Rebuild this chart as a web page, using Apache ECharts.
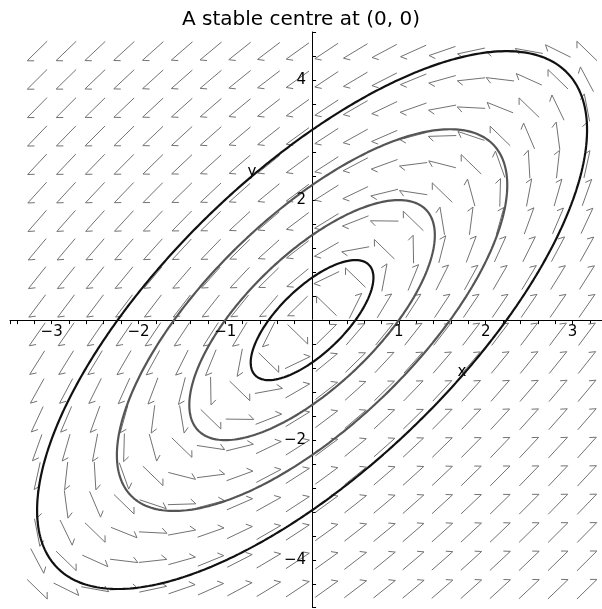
<!DOCTYPE html>
<html>
<head>
<meta charset="utf-8">
<script src="https://cdn.jsdelivr.net/npm/echarts@6/dist/echarts.min.js"></script>
<style>
  html, body { margin: 0; padding: 0; background: #fff; }
  #chart { width: 602px; height: 609px; }
</style>
</head>
<body>
<div id="chart"></div>
<script>
// Linear system  x' = x - y,  y' = 2x - y   (trace 0, det 1: a centre)
const systemMatrix = [[1, -1], [2, -1]];

// Starting points of the four trajectories (on the positive x-axis)
const startX = [0.5, 1.0, 1.59, 2.24];
const startY = [0, 0, 0, 0];
const curveShade = ['dark', 'mid', 'mid', 'dark'];

// Direction-field sampling: 20 x 20 cells, one arrow in each cell centre
const fieldXRange = [-10 / 3, 10 / 3];
const fieldYRange = [-4.72, 4.72];
const fieldCols = 20;
const fieldRows = 20;

// Labelled ticks
const xTickLabels = [-3, -2, -1, 1, 2, 3];
const yTickLabels = [-4, -2, 2, 4];

function rhs(x, y) {
  return [
    systemMatrix[0][0] * x + systemMatrix[0][1] * y,
    systemMatrix[1][0] * x + systemMatrix[1][1] * y
  ];
}

// Classic RK4 over one full period (eigenvalues are +-i, so period 2*pi)
function trajectory(x0, y0) {
  const steps = 720;
  const h = 2 * Math.PI / steps;
  const pts = [[x0, y0]];
  let x = x0, y = y0;
  for (let i = 0; i < steps; i++) {
    const k1 = rhs(x, y);
    const k2 = rhs(x + h / 2 * k1[0], y + h / 2 * k1[1]);
    const k3 = rhs(x + h / 2 * k2[0], y + h / 2 * k2[1]);
    const k4 = rhs(x + h * k3[0], y + h * k3[1]);
    x += h / 6 * (k1[0] + 2 * k2[0] + 2 * k3[0] + k4[0]);
    y += h / 6 * (k1[1] + 2 * k2[1] + 2 * k3[1] + k4[1]);
    pts.push([x, y]);
  }
  return pts;
}

const fieldData = [];
const cw = (fieldXRange[1] - fieldXRange[0]) / fieldCols;
const ch = (fieldYRange[1] - fieldYRange[0]) / fieldRows;
for (let i = 0; i < fieldCols; i++) {
  for (let j = 0; j < fieldRows; j++) {
    const x = fieldXRange[0] + (i + 0.5) * cw;
    const y = fieldYRange[0] + (j + 0.5) * ch;
    const d = rhs(x, y);
    fieldData.push([x, y, d[0], d[1]]);
  }
}

const shadeColor = { dark: '#111111', mid: '#555555' };
const ARROW_LEN = 28;
const BARB_LEN = 7;
const BARB_ANGLE = 45 * Math.PI / 180;

function renderArrow(params, api) {
  const c = api.coord([api.value(0), api.value(1)]);
  const s = api.size([1, 1]);
  let dx = api.value(2) * s[0];
  let dy = -api.value(3) * s[1];
  const n = Math.hypot(dx, dy);
  if (n === 0) return null;
  dx /= n; dy /= n;
  const head = [c[0] + dx * ARROW_LEN / 2, c[1] + dy * ARROW_LEN / 2];
  const tail = [c[0] - dx * ARROW_LEN / 2, c[1] - dy * ARROW_LEN / 2];
  // half arrowhead: one barb, turned clockwise from the shaft
  const bx = -dx, by = dy;
  const cs = Math.cos(BARB_ANGLE), sn = Math.sin(BARB_ANGLE);
  const rx = bx * cs + by * sn;
  const ry = -bx * sn + by * cs;
  const barb = [head[0] + rx * BARB_LEN, head[1] - ry * BARB_LEN];
  return {
    type: 'polyline',
    shape: { points: [tail, head, barb] },
    style: { stroke: '#727272', lineWidth: 1, fill: null }
  };
}

const minusSign = (v) => (v < 0 ? '\u2212' + Math.abs(v) : String(v));
const tickFont = '15px "DejaVu Sans"';

// Tick labels sit on the axes through the origin
function renderTickLabel(params, api) {
  const axis = api.value(0);       // 0 = x-axis, 1 = y-axis
  const v = api.value(1);
  if (axis === 0) {
    const p = api.coord([v, 0]);
    return { type: 'text', x: p[0], y: p[1] + 5,
      style: { text: minusSign(v), align: 'center', verticalAlign: 'top', fill: '#000', font: tickFont } };
  }
  const p = api.coord([0, v]);
  return { type: 'text', x: p[0] - 6, y: p[1],
    style: { text: minusSign(v), align: 'right', verticalAlign: 'middle', fill: '#000', font: tickFont } };
}

const tickLabelData = xTickLabels.map((v) => [0, v]).concat(yTickLabels.map((v) => [1, v]));

const series = [{
  type: 'custom',
  name: 'field',
  renderItem: renderArrow,
  data: fieldData,
  silent: true,
  z: 1
}];
startX.forEach((x0, k) => {
  series.push({
    type: 'line',
    name: 'orbit' + k,
    data: trajectory(x0, startY[k]),
    showSymbol: false,
    symbol: 'none',
    smooth: false,
    lineStyle: { color: shadeColor[curveShade[k]], width: 2.2 },
    silent: true,
    z: 3
  });
});
series.push({
  type: 'custom',
  name: 'ticklabels',
  renderItem: renderTickLabel,
  data: tickLabelData,
  encode: { x: -1, y: -1 },
  clip: false,
  silent: true,
  z: 4
});

const chart = echarts.init(document.getElementById('chart'), null, { renderer: 'canvas' });
chart.setOption({
  animation: false,
  backgroundColor: '#fff',
  title: {
    text: 'A stable centre at (0, 0)',
    left: 'center',
    top: 5,
    textStyle: { fontFamily: 'DejaVu Sans', fontSize: 20, fontWeight: 'normal', color: '#000' }
  },
  grid: { left: 10, right: 0, top: 32, bottom: 2, containLabel: false, outerBoundsMode: 'none' },
  xAxis: {
    type: 'value',
    min: -3.48, max: 3.34,
    minInterval: 1, maxInterval: 1, splitNumber: 7,
    axisLine: { onZero: true, lineStyle: { color: '#000', width: 1 } },
    axisTick: { show: true, length: 4, lineStyle: { color: '#000' } },
    minorTick: { show: true, splitNumber: 5, length: 4, lineStyle: { color: '#000' } },
    axisLabel: { show: false },
    splitLine: { show: false }
  },
  yAxis: {
    type: 'value',
    min: -4.78, max: 4.8,
    minInterval: 2, maxInterval: 2, splitNumber: 5,
    axisLine: { onZero: true, lineStyle: { color: '#000', width: 1 } },
    axisTick: { show: true, inside: true, length: 4, lineStyle: { color: '#000' } },
    minorTick: { show: true, splitNumber: 5, length: 4, lineStyle: { color: '#000' } },
    axisLabel: { show: false },
    splitLine: { show: false }
  },
  graphic: [
    { type: 'text', x: 462, y: 372, style: { text: 'x', align: 'center', verticalAlign: 'middle', fill: '#000', font: tickFont } },
    { type: 'text', x: 252, y: 172, style: { text: 'y', align: 'center', verticalAlign: 'middle', fill: '#000', font: tickFont } }
  ],
  series: series
});
</script>
</body>
</html>
